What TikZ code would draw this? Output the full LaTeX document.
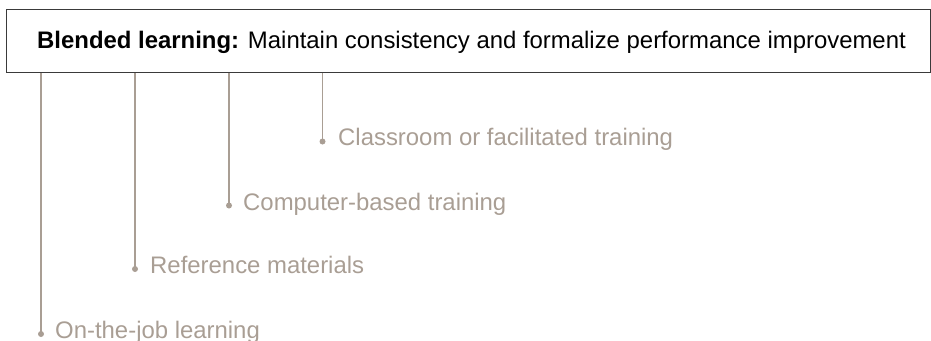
\documentclass[tikz,border=0pt]{standalone}
\usepackage{fontspec}
\setmainfont{Liberation Sans}
\definecolor{taupe}{HTML}{A99E94}
\definecolor{frame}{HTML}{3A3A3A}
\begin{document}
\begin{tikzpicture}[x=1bp,y=-1bp,
  header/.style={draw=frame,line width=0.9bp,minimum width=924bp,minimum height=63bp,anchor=north west,inner sep=0pt},
  title/.style={anchor=base west,inner sep=0pt,font=\fontsize{24}{28}\selectfont},
  dot/.style={circle,fill=taupe,inner sep=0pt,minimum size=6bp},
  stem/.style={draw=taupe,line width=1.4bp},
  item/.style={anchor=base west,text=taupe,inner sep=0pt,font=\fontsize{24}{28}\selectfont}]
\useasboundingbox (0,0) rectangle (931,340);
\node[header] (hdr) at (6,9) {};
\node[title] (ttl) at (37,48.5) {\textbf{Blended learning:} Maintain consistency and formalize performance improvement};

\node[dot] (d1) at (41,334) {};
\node[dot] (d2) at (135,269) {};
\node[dot] (d3) at (229,205.5) {};
\node[dot] (d4) at (322.5,141.5) {};

\draw[stem] (d1 |- hdr.south) -- (d1.center);
\draw[stem] (d2 |- hdr.south) -- (d2.center);
\draw[stem] (d3 |- hdr.south) -- (d3.center);
\draw[stem] (d4 |- hdr.south) -- (d4.center);

\node[item] (t1) at (55,338.5) {On-the-job learning};
\node[item] (t2) at (150,273) {Reference materials};
\node[item] (t3) at (243,210.5) {Computer-based training};
\node[item] (t4) at (338,145) {Classroom or facilitated training};
\end{tikzpicture}
\end{document}
